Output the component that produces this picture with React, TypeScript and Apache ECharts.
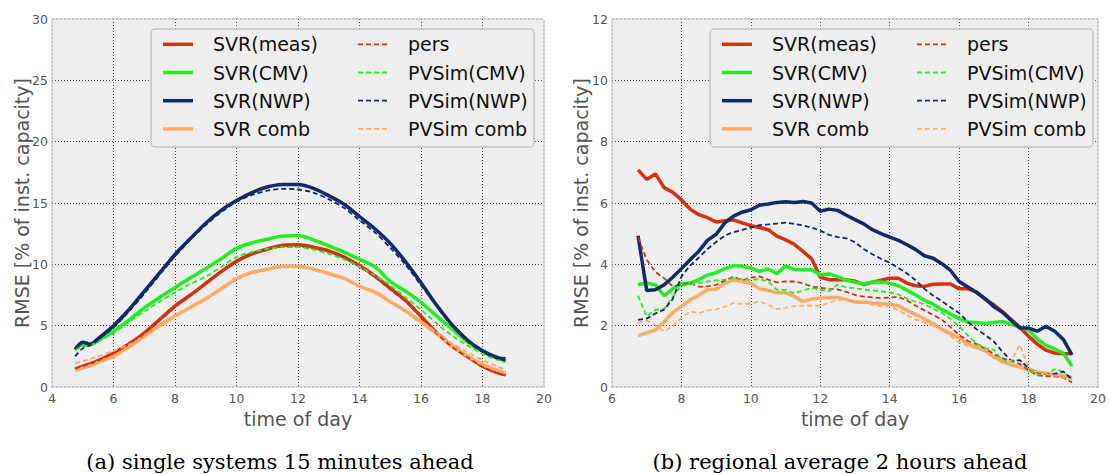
import React, { useEffect, useRef } from "react";
import * as echarts from "echarts";

// ---------- Panel (a): single systems 15 minutes ahead ----------
const LEFT_TIME = [4.75, 5.0, 5.25, 5.5, 6.0, 6.5, 7.0, 7.5, 8.0, 8.5, 9.0, 9.5, 10.0, 10.5, 11.0, 11.5, 12.0, 12.5, 13.0, 13.5, 14.0, 14.5, 15.0, 15.5, 16.0, 16.5, 17.0, 17.5, 18.0, 18.5, 18.75];
const L_SVR_MEAS = [1.45, 1.7, 1.9, 2.15, 2.75, 3.5, 4.4, 5.5, 6.6, 7.5, 8.45, 9.4, 10.25, 10.85, 11.25, 11.55, 11.6, 11.4, 11.1, 10.6, 9.9, 9.05, 8.05, 7.05, 5.75, 4.45, 3.35, 2.5, 1.7, 1.15, 1.0];
const L_SVR_CMV = [3.1, 3.45, 3.45, 3.8, 4.55, 5.45, 6.45, 7.3, 8.1, 8.9, 9.65, 10.45, 11.3, 11.75, 12.05, 12.3, 12.35, 12.0, 11.5, 11.0, 10.4, 9.8, 8.6, 7.8, 6.9, 5.8, 4.75, 3.7, 2.9, 2.35, 2.1];
const L_SVR_NWP = [3.05, 3.65, 3.5, 3.95, 5.0, 6.3, 7.8, 9.3, 10.8, 12.1, 13.35, 14.4, 15.2, 15.85, 16.3, 16.5, 16.5, 16.2, 15.6, 14.9, 13.9, 12.9, 11.7, 10.2, 8.5, 6.7, 5.1, 3.85, 2.95, 2.4, 2.3];
const L_SVR_COMB = [1.35, 1.55, 1.75, 2.0, 2.5, 3.25, 4.15, 5.0, 5.8, 6.5, 7.2, 8.0, 8.85, 9.35, 9.6, 9.85, 9.85, 9.6, 9.25, 8.85, 8.2, 7.75, 6.95, 6.2, 5.3, 4.35, 3.35, 2.55, 1.85, 1.35, 1.15];
const L_PERS = [1.5, 1.7, 1.9, 2.15, 2.75, 3.5, 4.35, 5.4, 6.5, 7.45, 8.4, 9.35, 10.2, 10.8, 11.2, 11.45, 11.45, 11.3, 11.0, 10.5, 9.8, 8.95, 7.95, 6.95, 5.7, 4.4, 3.3, 2.45, 1.65, 1.1, 0.95];
const L_PVSIM_CMV = [3.0, 3.3, 3.4, 3.7, 4.4, 5.3, 6.15, 6.95, 7.7, 8.4, 9.0, 9.8, 10.6, 11.0, 11.25, 11.4, 11.4, 11.2, 10.85, 10.4, 9.8, 9.1, 8.3, 7.3, 6.3, 5.2, 4.2, 3.4, 2.7, 2.2, 2.0];
const L_PVSIM_NWP = [2.5, 3.15, 3.4, 3.85, 4.85, 6.15, 7.6, 9.15, 10.65, 12.0, 13.2, 14.25, 15.1, 15.65, 16.0, 16.15, 16.1, 15.85, 15.3, 14.6, 13.6, 12.6, 11.35, 9.95, 8.3, 6.6, 5.0, 3.75, 2.85, 2.3, 2.15];
const L_PVSIM_COMB = [1.95, 2.1, 2.3, 2.5, 2.95, 3.45, 4.1, 4.9, 5.7, 6.45, 7.15, 7.95, 8.75, 9.25, 9.55, 9.75, 9.75, 9.55, 9.2, 8.8, 8.2, 7.65, 6.95, 6.2, 5.4, 4.5, 3.6, 2.85, 2.2, 1.65, 1.4];

// ---------- Panel (b): regional average 2 hours ahead ----------
const RIGHT_TIME = [6.75, 7.0, 7.25, 7.5, 7.75, 8.0, 8.25, 8.5, 8.75, 9.0, 9.25, 9.5, 9.75, 10.0, 10.25, 10.5, 10.75, 11.0, 11.25, 11.5, 11.75, 12.0, 12.25, 12.5, 12.75, 13.0, 13.25, 13.5, 13.75, 14.0, 14.25, 14.5, 14.75, 15.0, 15.25, 15.5, 15.75, 16.0, 16.25, 16.5, 16.75, 17.0, 17.25, 17.5, 17.75, 18.0, 18.25, 18.5, 18.75, 19.0, 19.25];
const R_SVR_MEAS = [7.08, 6.77, 6.95, 6.5, 6.35, 6.1, 5.8, 5.62, 5.52, 5.38, 5.42, 5.45, 5.35, 5.26, 5.2, 5.13, 4.92, 4.8, 4.65, 4.42, 4.18, 3.58, 3.5, 3.5, 3.5, 3.45, 3.34, 3.42, 3.48, 3.55, 3.55, 3.38, 3.3, 3.28, 3.35, 3.36, 3.36, 3.2, 3.2, 3.1, 2.86, 2.68, 2.45, 2.2, 1.95, 1.65, 1.4, 1.2, 1.11, 1.08, 1.1];
const R_SVR_CMV = [3.34, 3.39, 3.33, 2.98, 3.2, 3.37, 3.39, 3.5, 3.65, 3.73, 3.86, 3.96, 3.94, 3.88, 3.77, 3.85, 3.69, 3.95, 3.83, 3.82, 3.82, 3.65, 3.69, 3.6, 3.48, 3.42, 3.36, 3.42, 3.42, 3.38, 3.3, 3.15, 3.0, 2.83, 2.7, 2.53, 2.38, 2.22, 2.12, 2.1, 2.07, 2.1, 2.14, 2.04, 1.95, 1.86, 1.57, 1.36, 1.24, 1.1, 0.68];
const R_SVR_NWP = [4.93, 3.15, 3.17, 3.33, 3.58, 3.86, 4.15, 4.43, 4.78, 4.98, 5.35, 5.57, 5.7, 5.78, 5.93, 5.97, 6.02, 6.04, 6.02, 6.05, 6.0, 5.73, 5.8, 5.76, 5.6, 5.46, 5.32, 5.13, 5.0, 4.89, 4.78, 4.64, 4.48, 4.28, 4.2, 4.02, 3.8, 3.44, 3.26, 3.08, 2.88, 2.62, 2.44, 2.17, 1.92, 1.92, 1.82, 1.98, 1.82, 1.55, 1.05];
const R_SVR_COMB = [1.67, 1.77, 1.86, 2.12, 2.43, 2.63, 2.84, 2.99, 3.17, 3.19, 3.38, 3.5, 3.44, 3.38, 3.2, 3.15, 3.07, 3.08, 2.95, 2.79, 2.87, 2.9, 2.91, 2.93, 2.85, 2.77, 2.77, 2.74, 2.72, 2.7, 2.65, 2.5, 2.36, 2.22, 2.06, 1.88, 1.74, 1.6, 1.4, 1.3, 1.18, 0.98, 0.82, 0.72, 0.65, 0.55, 0.48, 0.45, 0.41, 0.37, 0.32];
const R_PERS = [4.88, 4.15, 3.75, 3.55, 3.28, 3.34, 3.4, 3.27, 3.28, 3.33, 3.47, 3.6, 3.48, 3.57, 3.6, 3.5, 3.41, 3.44, 3.44, 3.38, 3.28, 3.23, 3.2, 3.18, 3.1, 3.0, 2.95, 2.92, 2.9, 2.92, 2.94, 2.82, 2.65, 2.5, 2.35, 2.2, 1.95, 1.7, 1.5, 1.4, 1.25, 1.08, 0.93, 0.85, 0.75, 0.55, 0.38, 0.35, 0.35, 0.3, 0.15];
const R_PVSIM_CMV = [2.98, 2.3, 2.52, 2.54, 2.95, 3.3, 3.34, 3.39, 3.44, 3.48, 3.5, 3.55, 3.52, 3.48, 3.52, 3.44, 3.17, 3.17, 3.06, 3.15, 3.23, 3.17, 3.12, 3.34, 3.25, 3.22, 3.18, 3.15, 3.12, 3.08, 3.02, 2.88, 2.78, 2.7, 2.55, 2.42, 2.22, 1.98, 1.68, 1.42, 1.26, 1.22, 0.85, 0.82, 0.88, 0.56, 0.4, 0.42, 0.58, 0.5, 0.24];
const R_PVSIM_NWP = [2.19, 2.23, 2.4, 2.52, 2.87, 3.6, 3.96, 4.22, 4.5, 4.73, 4.94, 5.05, 5.12, 5.2, 5.28, 5.3, 5.33, 5.36, 5.32, 5.27, 5.2, 5.1, 4.96, 4.89, 4.85, 4.72, 4.5, 4.33, 4.18, 4.05, 3.88, 3.7, 3.48, 3.2, 2.98, 2.8, 2.6, 2.41, 2.12, 1.88, 1.7, 1.48, 1.15, 0.86, 0.87, 0.62, 0.48, 0.42, 0.43, 0.5, 0.25];
const R_PVSIM_COMB = [2.09, 2.17, 2.02, 1.81, 1.98, 2.25, 2.47, 2.41, 2.5, 2.53, 2.62, 2.74, 2.7, 2.72, 2.79, 2.68, 2.54, 2.58, 2.64, 2.65, 2.65, 2.65, 2.74, 2.85, 2.86, 2.8, 2.74, 2.68, 2.63, 2.63, 2.5, 2.34, 2.2, 2.1, 2.0, 1.88, 1.65, 1.45, 1.34, 1.26, 1.15, 0.98, 0.82, 0.85, 1.38, 0.62, 0.5, 0.43, 0.37, 0.3, 0.24];

const LEFT_X_TICKS = { min: 4, max: 20, interval: 2 };
const LEFT_Y_TICKS = { min: 0, max: 30, interval: 5 };
const RIGHT_X_TICKS = { min: 6, max: 20, interval: 2 };
const RIGHT_Y_TICKS = { min: 0, max: 12, interval: 2 };

const SOLID_NAMES = ["SVR(meas)", "SVR(CMV)", "SVR(NWP)", "SVR comb"];
const DASHED_NAMES = ["pers", "PVSim(CMV)", "PVSim(NWP)", "PVSim comb"];
const COLORS = ["#d8300e", "#22ee22", "#122a6c", "#ffaa66"];

const X_NAME = "time of day";
const Y_NAME = "RMSE [% of inst. capacity]";
const CAPTIONS = ["(a) single systems 15 minutes ahead", "(b) regional average 2 hours ahead"];

const FONT = "DejaVu Sans";
const GRID_LEFTS = [52, 612];
const GRID_TOP = 19;
const GRID_W = 492;
const GRID_H = 368;

function lineSeries(name: string, time: number[], vals: number[], color: string, dashed: boolean, idx: number, smooth: boolean) {
  return {
    type: "line",
    name,
    xAxisIndex: idx,
    yAxisIndex: idx,
    data: time.map((t, i) => [t, vals[i]]),
    showSymbol: false,
    symbol: "none",
    smooth: smooth ? 0.3 : false,
    silent: true,
    z: dashed ? 4 : 3,
    itemStyle: { color },
    lineStyle: { color, width: dashed ? 1.8 : 3.5, type: dashed ? [5, 3] : "solid", cap: "butt" },
  };
}

const borderLine = { show: true, onZero: false, lineStyle: { color: "#bbbbbb", width: 1.5, type: [2, 2] } };
const gridSplit = { show: true, showMinLine: false, showMaxLine: false, lineStyle: { color: "#444", width: 1, type: [1, 2] } };
const tickLabel = { color: "#555", fontSize: 12.5, fontFamily: FONT };
const nameStyle = { color: "#555", fontSize: 19, fontFamily: FONT };

function legendGraphics(boxLeft: number) {
  const els: any[] = [];
  const top = 29;
  els.push({
    type: "rect",
    z: 100,
    shape: { x: boxLeft, y: top, width: 383, height: 118, r: 4 },
    style: { fill: "#eeeeee", stroke: "#c4c4c4", lineWidth: 1.5 },
  });
  const rows = [44.3, 72.5, 100.7, 128.9];
  for (let c = 0; c < 2; c++) {
    const names = c === 0 ? SOLID_NAMES : DASHED_NAMES;
    const lx = boxLeft + (c === 0 ? 12 : 207);
    const tx = boxLeft + (c === 0 ? 62 : 257);
    names.forEach((n, i) => {
      els.push({
        type: "line",
        z: 101,
        shape: { x1: lx, y1: rows[i], x2: lx + 30, y2: rows[i] },
        style: c === 0 ? { stroke: COLORS[i], lineWidth: 3.5 } : { stroke: COLORS[i], lineWidth: 1.8, lineDash: [5, 3] },
      });
      els.push({
        type: "text",
        z: 101,
        x: tx,
        y: rows[i],
        style: { text: n, fill: "#111", font: `19px "${FONT}"`, textAlign: "left", textVerticalAlign: "middle", align: "left", verticalAlign: "middle" },
      });
    });
  }
  return els;
}

export default function App() {
  const ref = useRef<HTMLDivElement>(null);
  useEffect(() => {
    if (!ref.current) return;
    const chart = echarts.init(ref.current, undefined, { renderer: "svg" });
    const grids = GRID_LEFTS.map((l) => ({
      left: l,
      top: GRID_TOP,
      width: GRID_W,
      height: GRID_H,
      show: true,
      backgroundColor: "#eeeeee",
      borderWidth: 0,
    }));
    const xTicks = [LEFT_X_TICKS, RIGHT_X_TICKS];
    const yTicks = [LEFT_Y_TICKS, RIGHT_Y_TICKS];
    const xAxis: any[] = [];
    const yAxis: any[] = [];
    [0, 1].forEach((g) => {
      xAxis.push({
        type: "value",
        gridIndex: g,
        ...xTicks[g],
        axisLine: borderLine,
        axisTick: { show: false },
        axisLabel: { ...tickLabel, margin: 5 },
        splitLine: gridSplit,
        name: X_NAME,
        nameLocation: "middle",
        nameGap: 21,
        nameTextStyle: nameStyle,
      });
      yAxis.push({
        type: "value",
        gridIndex: g,
        ...yTicks[g],
        axisLine: borderLine,
        axisTick: { show: false },
        axisLabel: { ...tickLabel, margin: 4 },
        splitLine: gridSplit,
      });
    });
    [0, 1].forEach((g) => {
      xAxis.push({
        type: "value",
        gridIndex: g,
        position: "top",
        ...xTicks[g],
        axisLine: borderLine,
        axisTick: { show: false },
        axisLabel: { show: false },
        splitLine: { show: false },
      });
      yAxis.push({
        type: "value",
        gridIndex: g,
        position: "right",
        ...yTicks[g],
        axisLine: borderLine,
        axisTick: { show: false },
        axisLabel: { show: false },
        splitLine: { show: false },
      });
    });

    const leftSolid = [L_SVR_MEAS, L_SVR_CMV, L_SVR_NWP, L_SVR_COMB];
    const leftDashed = [L_PERS, L_PVSIM_CMV, L_PVSIM_NWP, L_PVSIM_COMB];
    const rightSolid = [R_SVR_MEAS, R_SVR_CMV, R_SVR_NWP, R_SVR_COMB];
    const rightDashed = [R_PERS, R_PVSIM_CMV, R_PVSIM_NWP, R_PVSIM_COMB];
    const series: any[] = [];
    [0, 1, 2, 3].forEach((i) => {
      series.push(lineSeries(SOLID_NAMES[i], LEFT_TIME, leftSolid[i], COLORS[i], false, 0, true));
      series.push(lineSeries(DASHED_NAMES[i], LEFT_TIME, leftDashed[i], COLORS[i], true, 0, true));
      series.push(lineSeries(SOLID_NAMES[i], RIGHT_TIME, rightSolid[i], COLORS[i], false, 1, false));
      series.push(lineSeries(DASHED_NAMES[i], RIGHT_TIME, rightDashed[i], COLORS[i], true, 1, false));
    });

    const capStyle = { fill: "#000", font: '21px "DejaVu Serif"', textAlign: "center", textVerticalAlign: "middle", align: "center", verticalAlign: "middle" };
    const yNameStyle = { fill: "#555", font: `19px "${FONT}"`, textAlign: "center", textVerticalAlign: "middle", align: "center", verticalAlign: "middle", text: Y_NAME };
    const graphic: any[] = [
      ...legendGraphics(151),
      ...legendGraphics(710),
      { type: "text", z: 100, x: 280, y: 462, style: { ...capStyle, text: CAPTIONS[0] } },
      { type: "text", z: 100, x: 840, y: 462, style: { ...capStyle, text: CAPTIONS[1] } },
      { type: "text", z: 100, x: GRID_LEFTS[0] - 30.5, y: GRID_TOP + GRID_H / 2, rotation: Math.PI / 2, style: yNameStyle },
      { type: "text", z: 100, x: GRID_LEFTS[1] - 31.5, y: GRID_TOP + GRID_H / 2, rotation: Math.PI / 2, style: yNameStyle },
    ];

    chart.setOption({
      animation: false,
      backgroundColor: "#ffffff",
      textStyle: { fontFamily: FONT },
      grid: grids,
      xAxis,
      yAxis,
      series,
      graphic,
    });
    return () => chart.dispose();
  }, []);
  return <div ref={ref} style={{ position: "fixed", left: 0, top: 0, width: 1109, height: 474 }} />;
}
